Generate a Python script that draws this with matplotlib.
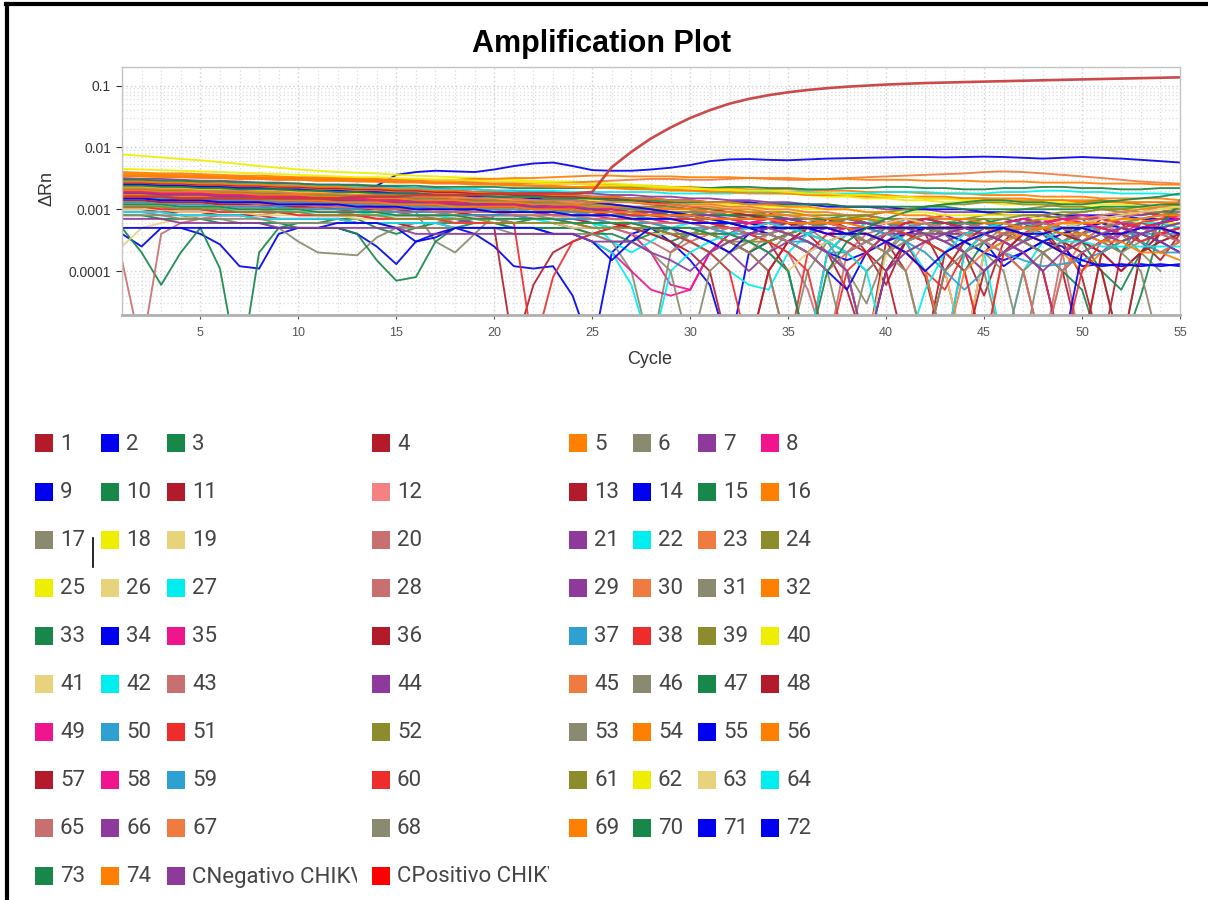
import matplotlib.pyplot as plt
import matplotlib.ticker as mticker
from matplotlib.patches import Rectangle
from matplotlib.lines import Line2D
from matplotlib.transforms import Bbox
import numpy as np

# Delta Rn per well, in units of 1e-4 (one list per well, cycles 1..55)
drn_e4 = [
    [30,29,28,28,27,26,25,25,24,23,23, 22,22,21,20,20,19,19,18,17,17,16, 16,15,14,14,13,12,11,10,9,8,8, 9,6,4,7,5,2,0.6,3,5,4,2, 0.4,3,6,5,2,4,7,6,3,1.5,4],
    [26,26,25,25,24,24,24,23,23,22,22, 22,23,24,36,40,42,41,40,44,50,55, 57,50,43,42,42,44,47,52,60,64,65, 63,62,64,66,67,68,69,70,70,69,70, 71,70,68,66,68,70,68,66,63,60,57],
    [18,17,17,16,16,15,15,15,14,14,14, 14,13,13,13,12,12,12,11,11,11,10, 10,10,9,9,9,8,8,8,7,7,7, 8,7,6,7,8,6,5,7,6,4,6, 7,5,3,6,8,7,4,2,6,9,11],
    [22,21,21,20,20,19,19,18,18,17,17, 16,16,15,15,14,14,13,13,12,12,11, 11,10,10,9,9,8,8,7,7,6,6, 5,6,4,2,0.5,0.05,3,5,4,1,0.05, 2,4,6,5,3,0.8,0.05,2,4,5,3],
    [40,39,38,38,37,36,35,35,34,33,33, 32,32,31,30,30,29,29,28,28,27,27, 26,26,25,25,24,24,23,23,22,22,21, 21,21,20,20,20,19,19,19,18,18,18, 17,17,17,16,16,16,15,15,15,15,14],
    [16,15,15,14,14,14,13,13,12,12,12, 11,11,11,10,9,3,2,4,8,9,9, 8,8,9,8,7,6,5,3,2,4,6, 7,6,5,3,1,0.3,2,5,6,4, 2,3,5,6,4,3,5,6,4,2,1],
    [32,31,31,30,29,29,28,27,27,26,25, 25,24,24,23,22,22,21,21,20,20,19, 19,18,18,17,17,16,16,15,15,14,14, 13,13,12,12,11,11,10,10,10,9,9, 9,8,8,8,7,7,7,6,6,6,5],
    [12,12,11,11,11,10,10,10,9,9,9, 9,8,8,8,8,7,7,7,7,6,6, 6,6,5,5,4,2,0.6,0.5,2,4,6, 7,6,5,6,7,8,6,5,7,8,6, 5,4,6,7,5,3,2,4,6,7,8],
    [4,2.5,5,5,4,2.7,1.2,1.1,4,5,5, 5,4,2.5,1.3,3,4,5,4,2.5,1.2,1.1, 1.2,0.4,0.05,2,4,5,3,1.5,0.6,0.05,2, 3,4,3,2,1,0.05,1,3,4,5,4, 3,1.2,2,3,2.5,1.2,1.3,1.2,1.3,1.2,1.3],
    [5,2,0.6,2,5,1.1,0.02,2,5,6,6, 7,7,5,4,5,6,6,7,7,6,7, 7,6,6,5,5,4,3,4,5,6,5, 4,5,6,5,4,3,5,6,5,4,5, 6,7,6,5,4,6,7,6,5,6,7],
    [20,20,19,19,18,18,17,17,16,16,15, 15,14,14,14,13,13,12,12,11,11,10, 10,9,9,8,8,7,7,6,6,5,4, 3,1,0.05,2,4,6,5,3,0.8,0.05,2, 4,5,6,4,2,3,5,4,3,2,3],
    [14,14,13,13,13,12,12,12,11,11,11, 10,10,10,9,9,9,8,8,8,8,7, 7,7,7,6,6,6,5,5,4,3,2, 4,5,6,5,4,3,2,1,3,5,6, 5,4,6,7,6,5,4,6,7,5,4],
    [24,24,23,22,22,21,21,20,19,19,18, 18,17,17,16,16,15,15,14,14,13,13, 12,12,11,11,10,10,9,9,8,8,7, 7,6,6,5,5,4,3,1,0.05,2,3, 4,6,7,6,5,4,5,6,5,4,3],
    [28,28,27,27,26,26,25,25,24,24,23, 23,22,22,21,21,20,20,19,19,18,18, 17,17,16,16,15,15,14,14,13,13,13, 12,12,12,11,11,11,11,10,10,10,10, 9,9,9,9,8,8,8,8,7,7,7],
    [30,30,29,29,28,28,27,27,26,26,25, 25,25,24,24,24,23,23,23,23,22,22, 22,22,22,23,23,23,22,22,22,23,23, 22,22,21,21,22,22,23,23,22,22,21, 21,22,22,23,23,22,22,21,21,22,22],
    [38,37,36,36,35,34,34,33,32,32,31, 30,30,29,28,28,27,27,26,26,25,24, 24,23,23,22,22,21,21,20,20,20,19, 19,18,18,18,17,17,17,16,16,16,15, 15,15,15,14,14,14,14,13,13,13,13],
    [9,9,8,8,7,7,6,6,5,3,2, 1.9,1.8,3.5,5,6,6,7,6,6,5,5, 5,5,4,3,1,0.05,2,4,5,4,3, 2,4,5,6,5,3,2,4,5,4,3, 2,1,0.05,2,3,4,3,2,3,4,5],
    [77,73,69,65,62,58,54,50,47,44,42, 40,39,38,36,35,34,33,32,31,30,29, 28,28,27,26,25,24,23,22,21,20,19, 18,18,17,16,16,15,15,14,14,13,13, 13,12,12,12,11,11,11,10,10,10,10],
    [20,20,19,19,18,18,17,17,17,16,16, 15,15,15,14,14,14,13,13,13,12,12, 12,11,11,10,10,9,9,8,7,6,5, 4,3,2,3,4,5,4,3,2,1,0.05, 2,3,4,5,4,3,2,3,4,5,6],
    [1.5,0.05,4,6,7,8,8,8,9,9,9, 9,9,9,8,8,8,7,7,7,6,6, 6,5,5,5,4,3,2,3,4,5,4, 3,2,0.5,0.05,2,4,5,6,5,4, 3,2,3,4,5,6,5,4,3,4,5],
    [22,22,21,21,20,20,19,19,18,18,17, 17,16,16,15,15,14,14,14,13,13,12, 12,12,11,11,10,10,9,9,9,8,8, 8,7,7,7,6,6,6,5,4,3,4, 5,6,7,8,7,6,5,6,7,8,9],
    [28,28,27,27,26,26,25,25,24,24,23, 23,23,22,22,22,21,21,21,20,20,20, 20,19,19,19,19,19,18,18,18,18,19, 19,19,19,18,18,18,19,19,19,18,18, 18,19,19,20,20,19,19,18,18,18,17],
    [34,34,33,33,32,32,31,31,30,30,29, 29,29,28,28,28,27,27,27,26,26,26, 26,27,28,29,30,31,31,30,30,31,32, 31,30,30,31,32,33,34,35,36,37,38, 40,41,40,38,36,34,32,30,28,27,26],
    [16,16,15,15,15,14,14,14,13,13,13, 12,12,12,11,11,11,10,10,10,9,9, 9,9,8,8,8,7,7,7,6,6,6, 6,5,5,6,7,6,5,4,5,6,7, 8,9,10,11,12,13,14,13,12,11,10],
    [26,26,25,25,24,24,23,23,22,22,21, 21,20,20,19,19,18,18,17,17,16,16, 15,15,14,14,13,13,12,12,11,11,10, 10,9,9,8,8,7,7,6,5,4,3, 2,3,4,5,6,5,4,5,6,7,8],
    [2.5,5,6,7,8,9,9,9,10,10,10, 11,11,11,10,10,10,9,9,9,8,8, 8,7,7,7,6,6,5,4,3,2,3, 4,5,6,5,4,3,2,1,0.05,1,3, 4,5,4,3,2,3,4,5,4,3,2],
    [18,17,17,16,16,16,15,15,14,14,14, 13,13,12,12,12,11,11,11,10,10,9, 9,8,6,3,2,3,5,6,5,4,3, 2,1,0.05,2,4,6,7,6,5,4,3, 2,0.05,1,3,5,6,5,4,3,4,5],
    [17,17,16,16,15,15,15,14,14,13,13, 13,12,12,12,11,11,10,10,10,9,9, 9,8,8,8,7,7,6,6,5,5,4, 3,4,5,6,5,4,3,2,3,4,5, 6,5,4,3,2,0.05,2,3,4,5,6],
    [11,11,10,10,10,9,9,9,9,8,8, 8,8,7,7,7,7,7,6,6,6,6, 6,5,5,5,5,4,4,4,3,2,1, 2,3,4,5,4,3,4,5,6,5,4, 5,6,7,6,5,3,2,1,2,4,5],
    [24,23,23,22,22,21,21,20,20,19,19, 18,18,17,17,16,16,15,15,14,14,14, 13,13,12,12,11,11,10,10,9,9,8, 8,7,7,6,6,5,5,4,3,2,1, 0.05,2,4,6,7,6,5,4,3,2,3],
    [12,12,11,11,11,10,10,10,9,9,9, 9,8,8,8,8,7,7,7,7,6,6, 6,6,5,5,5,4,4,4,3,2,3, 4,5,4,3,2,1,2,3,4,5,4, 3,2,3,4,3,2,1,0.05,2,3,4],
    [36,35,35,34,34,33,33,32,32,32,31, 31,31,30,30,30,30,30,31,31,32,32, 33,34,35,35,34,34,34,33,33,33,32, 32,32,31,31,31,30,30,30,29,29,29, 28,28,28,27,27,27,26,26,26,25,25],
    [8,8,7,7,7,6,6,6,6,5,5, 5,4,1.5,0.7,0.8,3,5,6,6,5,5, 5,5,4,4,3,4,5,5,4,3,2, 3,4,5,6,7,6,5,4,3,2,1, 3,4,3,2,1,0.5,0.05,0.05,0.4,5,14],
    [20,20,19,19,18,18,18,17,17,16,16, 16,15,15,14,14,14,13,13,12,12,12, 11,11,10,10,9,9,8,8,7,7,6, 5,4,3,2,1.5,2,3,4,5,4,3, 2,1.5,2,3,4,5,6,5,4,3,2],
    [16,16,15,15,15,14,14,13,13,13,12, 12,12,11,11,11,10,10,10,9,9,9, 8,8,8,7,7,7,6,6,6,5,5, 6,7,6,5,4,5,6,7,6,5,4, 5,6,7,6,5,6,7,8,9,8,7],
    [10,10,9,9,9,8,8,8,7,7,7, 7,6,6,6,5,5,5,5,5,0.05,0.6, 2,3,4,5,6,5,4,3,2,3,4, 5,4,3,2,1,0.05,1,3,4,5,6, 5,4,3,2,1,0.05,2,3,4,5,6],
    [21,21,20,20,19,19,18,18,18,17,17, 16,16,15,15,15,14,14,13,13,13,12, 12,11,11,11,10,10,9,9,9,8,8, 8,8,7,7,7,7,6,6,6,6,6, 6,5,5,5,5,5,5,4,4,4,4],
    [13,13,12,12,12,11,11,11,10,10,10, 10,9,9,9,8,8,8,8,7,7,7, 7,6,6,6,5,5,5,4,4,3,2, 1,0.05,2,4,5,4,3,2,1,0.5,2, 4,5,4,3,2,3,4,5,6,7,8],
    [19,19,18,18,18,17,17,16,16,16,15, 15,15,14,14,13,13,13,12,12,12,11, 11,11,10,10,10,9,9,9,8,8,8, 7,7,7,6,6,6,5,5,5,4,4, 4,5,6,7,8,9,10,9,8,9,10],
    [23,23,22,22,21,21,20,20,20,19,19, 18,18,18,17,17,17,16,16,16,15,15, 15,14,14,14,13,13,13,12,12,12,11, 11,11,10,10,10,9,9,9,9,8,8, 8,8,8,7,7,7,7,7,6,6,6],
    [10,10,10,9,9,9,9,8,8,8,8, 8,7,7,7,7,7,6,6,6,6,6, 6,5,5,5,5,4,4,3,2,3,4, 5,4,3,2,1,0.05,2,3,4,5,5, 4,3,4,5,6,5,4,3,4,5,6],
    [12,12,11,11,11,10,10,10,10,9,9, 9,9,8,8,8,8,7,7,7,7,7, 6,6,6,5,5,5,4,3,2,1,0.6, 0.5,2,4,6,7,6,5,3,1,0.05,2, 4,5,6,5,4,3,4,5,6,6,5],
    [19,18,18,17,17,17,16,16,15,15,15, 14,14,14,13,13,12,12,12,11,11,11, 10,10,10,9,9,9,8,8,7,7,6, 6,5,4,3,2,3,4,5,6,5,4, 3,2,1,0.05,2,4,5,4,3,4,5],
    [15,15,14,14,14,13,13,13,12,12,12, 11,11,11,10,10,10,10,9,9,9,9, 8,8,8,8,7,7,7,7,6,6,6, 6,6,5,5,5,5,4,4,4,4,4, 5,5,6,6,7,7,7,8,8,9,9],
    [26,26,25,25,24,24,23,23,22,22,21, 21,20,20,19,19,18,18,18,17,17,16, 16,15,15,14,14,13,13,12,12,11,11, 10,10,9,9,8,8,7,7,6,5,4, 3,2,1,0.05,1,3,5,7,9,11,13],
    [14,14,13,13,13,12,12,12,11,11,11, 10,10,10,9,9,9,9,8,8,8,8, 7,7,7,6,6,6,5,5,4,3,2, 1,0.05,1,3,4,5,6,5,4,3,2, 1,0.05,1,2,3,4,5,6,7,8,9],
    [17,17,16,16,16,15,15,15,14,14,14, 13,13,13,12,12,12,11,11,11,11,10, 10,10,10,9,9,9,9,8,8,8,8, 8,7,7,7,7,7,6,6,6,6,6, 6,6,5,5,4,3,1,0.5,2,6,12],
    [27,27,26,26,25,25,24,24,23,23,22, 22,21,21,20,20,19,19,18,18,17,17, 16,16,15,15,14,13,12,11,10,9,8, 7,6,5,4,3,2,1,0.05,0.05,1,3, 5,6,5,4,3,2,1,0.05,2,4,5],
    [9,9,9,8,8,8,8,7,7,7,7, 7,6,6,6,6,6,5,5,5,5,5, 4,4,3,2,1,0.5,0.4,0.5,2,4,5, 6,7,6,5,4,5,6,7,6,5,4, 3,4,5,6,7,8,7,6,5,4,5],
    [16,16,15,15,15,14,14,14,13,13,13, 12,12,12,11,11,11,10,10,10,10,9, 9,9,8,8,8,7,7,7,6,6,5, 4,3,2,3,4,5,4,3,2,1,0.5, 1,2,3,4,5,6,5,4,3,2,2],
    [11,11,10,10,10,9,9,9,9,8,8, 8,8,7,7,7,7,6,6,6,6,0.05, 0.8,3,4,5,6,5,4,3,2,1,0.05, 1,3,5,6,7,6,5,4,3,2,1, 0.05,2,4,6,7,6,5,4,3,4,5],
    [21,21,20,20,19,19,19,18,18,17,17, 17,16,16,15,15,15,14,14,14,13,13, 13,12,12,12,11,11,11,10,10,10,9, 9,9,8,8,8,8,7,7,7,7,7, 7,7,8,8,9,9,10,10,11,11,12],
    [17,17,16,16,16,15,15,14,14,14,13, 13,13,12,12,12,11,11,11,10,10,10, 10,9,9,9,8,8,8,7,7,6,5, 4,3,2,1,0.05,1,2,3,4,5,6, 5,4,3,2,1,2,3,4,5,6,7],
    [20,20,19,19,19,18,18,17,17,17,16, 16,15,15,15,14,14,14,13,13,13,12, 12,12,11,11,11,10,10,10,9,9,9, 8,8,8,7,7,7,6,6,6,5,5, 5,4,4,3,2,1,2,3,4,5,6],
    [25,25,24,24,23,23,22,22,21,21,20, 20,19,19,18,18,17,17,16,16,15,15, 14,14,13,12,11,10,9,8,7,6,5, 4,3,2,1,0.5,2,4,6,7,6,5, 4,3,2,1,0.05,2,3,4,5,6,7],
    [35,34,34,33,33,32,31,31,30,30,29, 29,28,28,27,27,26,26,25,25,24,24, 23,23,22,22,21,21,20,20,19,19,18, 18,18,17,17,17,16,16,16,15,15,15, 15,14,14,14,14,13,13,13,13,13,12],
    [14,14,13,13,13,12,12,12,11,11,11, 10,10,10,10,9,9,9,8,8,8,7, 7,7,6,6,5,4,3,2,1,0.05,0.05, 1,3,5,6,5,4,3,2,1,0.05,0.05, 1,2,4,5,4,3,2,1,2,3,4],
    [19,19,18,18,18,17,17,16,16,16,15, 15,15,14,14,13,13,13,12,12,12,11, 11,11,10,10,9,9,8,8,7,7,6, 6,5,5,4,4,5,6,7,6,5,4, 3,4,5,6,7,6,5,4,5,6,7],
    [13,13,12,12,12,11,11,11,11,10,10, 10,10,9,9,9,9,8,8,8,8,7, 7,7,7,6,6,6,5,5,5,4,4, 4,3,3,2,2,3,4,5,6,5,4, 3,2,1.5,1.2,1.3,1.5,2,3,4,5,6],
    [18,18,17,17,16,16,16,15,15,14,14, 14,13,13,13,12,12,12,11,11,11,10, 10,10,9,9,8,8,7,7,6,5,4, 3,2,1,0.05,1,2,4,6,7,6,5, 4,3,2,1,0.05,1,3,5,6,5,4],
    [11,11,11,10,10,10,9,9,9,9,8, 8,8,8,7,7,7,7,7,6,6,6, 6,6,5,5,5,5,4,4,4,3,3, 3,4,5,6,7,8,9,10,11,12,12, 13,13,12,12,11,11,10,10,9,9,8],
    [45,44,43,42,41,40,39,38,37,36,35, 34,33,33,32,31,30,30,29,28,28,27, 26,26,25,24,24,23,22,22,21,21,20, 20,19,18,18,17,17,16,16,15,15,14, 14,14,13,13,13,12,12,12,11,11,11],
    [12,12,12,11,11,11,10,10,10,10,9, 9,9,9,8,8,8,8,7,7,7,7, 7,6,6,6,6,5,5,5,4,4,3, 2,1,2,3,4,5,6,7,6,5,4, 3,2,3,4,5,6,7,8,9,10,11],
    [9,9,9,8,8,8,8,7,7,7,7, 7,6,6,6,6,6,5,5,5,5,5, 4,4,3,2,0.6,0.05,1,2,3,4,5, 6,5,4,3,2,1,0.05,0.05,0.5,2,4, 5,6,5,4,3,3,2.5,2.5,2.5,2.5,2.5],
    [15,15,14,14,14,13,13,12,12,12,11, 11,11,10,10,10,9,9,9,9,8,8, 8,8,7,7,7,6,6,6,5,5,4, 4,3,2,1,2,3,4,5,6,5,4, 3,2,1,0.05,1,2,3,4,5,4,3],
    [18,18,17,17,17,16,16,15,15,15,14, 14,14,13,13,13,12,12,12,11,11,11, 10,10,10,9,9,9,8,8,8,7,7, 7,7,6,6,6,6,5,5,4,3,2, 1,2,3,4,5,5,4,3,4,5,6],
    [22,22,21,21,20,20,20,19,19,18,18, 18,17,17,17,16,16,16,15,15,15,14, 14,14,13,13,13,12,12,11,11,10,10, 9,8,7,6,5,4,3,2,1,0.05,1, 2,3,4,5,6,7,8,9,10,11,12],
    [8,8,8,7,7,7,7,7,6,6,6, 6,6,6,5,5,5,5,5,5,4,4, 4,4,4,3,3,2,1,0.05,1,2,3, 4,5,6,5,4,3,2,1,0.05,1,2, 3,4,5,6,5,4,3,2,1,0.05,0.05],
    [17,17,16,16,16,15,15,15,14,14,14, 13,13,13,12,12,12,11,11,11,11,10, 10,10,9,9,9,8,8,8,7,7,7, 7,6,6,6,6,5,5,5,5,5,5, 5,5,5,5,6,6,6,7,7,8,8],
    [24,24,23,23,22,22,21,21,21,20,20, 19,19,18,18,18,17,17,17,16,16,16, 15,15,15,14,14,14,13,13,13,13,12, 12,12,12,12,11,11,11,11,11,11,10, 10,10,10,10,10,10,11,11,11,12,12],
    [5,5,5,5,5,5,5,5,5,5,5, 6,6,6,5,3,3.5,5,5,5,5,5, 4,4,3,1.5,3,5,5,4,3,2,4, 5,5,5,5,4,5,5,5,5,5,5, 5,5,4,4,5,5,4,4,5,5,4],
    [15,15,14,14,14,13,13,13,12,12,12, 12,11,11,11,10,10,10,10,9,9,9, 9,8,8,8,7,7,7,6,6,6,5, 5,5,5,4,4,4,3,2,1,2,3, 4,5,4,3,2,1.5,1.2,1.3,1.2,1.3,1.2],
    [12,12,12,11,11,11,10,10,10,10,9, 9,9,9,8,8,8,8,7,7,7,7, 7,6,6,6,6,5,5,5,4,4,3, 2,1,0.05,1,3,5,7,9,11,12,13,14, 14,13,13,12,12,13,14,15,16,18],
    [28,28,27,27,26,26,25,25,24,24,23, 23,22,22,21,21,20,20,19,19,18,18, 17,17,16,16,15,15,14,14,13,13,12, 12,11,11,10,10,9,9,8,8,7,7, 6,6,5,5,4,4,3,3,2,2,1.5],
    # CNegativo CHIKV
    [7,7,7,6,6,6,6,6,5,5,5, 5,5,5,5,4,4,4,4,4,4,4, 4,4,3,3,3,2,1.5,1,2,3,4, 5,4,3,2,1,0.05,1,2,3,4,5, 4,3,2,1,2,3,4,5,4,3,2],
    # CPositivo CHIKV
    [16,16,16,15,15,15,15,15,15,15,15, 15,16,16,16,17,17,17,17,18,18,18, 18,18,19,48,85,140,210,300,400,510,610, 700,780,850,910,960,1000,1040,1070,1100,1120,1140, 1160,1180,1200,1220,1240,1260,1280,1300,1320,1340,1360],
]

labels = [str(i) for i in range(1, 75)] + ["CNegativo CHIKV", "CPositivo CHIKV"]

dred, blue, green, orange = "#b31b2b", "#0000f0", "#17874a", "#ff7f00"
grey, purple, pink, salmon = "#8a8a70", "#8e3a9c", "#f0158c", "#f58282"
yellow, khaki, rosy, cyan = "#eeee00", "#e8d27c", "#c87070", "#00eeee"
coral, olive, steel, red = "#f07b40", "#8c8c2c", "#2ea0d2", "#ee2c2c"

colors = [
    dred, blue, green, dred, orange, grey, purple, pink,
    blue, green, dred, salmon, dred, blue, green, orange,
    grey, yellow, khaki, rosy, purple, cyan, coral, olive,
    yellow, khaki, cyan, rosy, purple, coral, grey, orange,
    green, blue, pink, dred, steel, red, olive, yellow,
    khaki, cyan, rosy, purple, coral, grey, green, dred,
    pink, steel, red, olive, grey, orange, blue, orange,
    dred, pink, steel, red, olive, yellow, khaki, cyan,
    rosy, purple, coral, grey, orange, green, blue, blue,
    green, orange, purple, "#ff0000",
]

W, H = 1208, 900


def fx(px):
    return px / W


def fy(py):
    return 1 - py / H


fig = plt.figure(figsize=(W / 100, H / 100), dpi=100)

# outer frame (top + left only)
fig.add_artist(Line2D([fx(6), 1], [fy(4), fy(4)], color="black", lw=3))
fig.add_artist(Line2D([fx(7), fx(7)], [fy(4), 0], color="black", lw=3))

fig.text(fx(602), fy(52), "Amplification Plot", ha="center", va="baseline",
         fontsize=22, fontweight="bold", family="Liberation Sans")

ax = fig.add_axes([fx(122), fy(315), fx(1180) - fx(122), fy(67) - fy(315)])

for i, vals in enumerate(drn_e4):
    y = np.array(vals) * 1e-4
    x = np.arange(1, len(y) + 1)
    last = i == len(drn_e4) - 1
    ax.plot(x, y, color="#c83a3a" if last else colors[i],
            lw=1.9 if last else 1.35, alpha=0.92)

ax.set_yscale("log")
ax.set_xlim(1, 55)
ax.set_ylim(1.95e-5, 0.2)

ax.yaxis.set_major_locator(mticker.FixedLocator([1e-4, 1e-3, 1e-2, 1e-1]))
ax.yaxis.set_major_formatter(mticker.FixedFormatter(["0.0001", "0.001", "0.01", "0.1"]))
ax.yaxis.set_minor_locator(mticker.LogLocator(base=10, subs=np.arange(2, 10)))
ax.yaxis.set_minor_formatter(mticker.NullFormatter())
ax.xaxis.set_major_locator(mticker.MultipleLocator(5))
ax.xaxis.set_minor_locator(mticker.MultipleLocator(1))

ax.grid(which="major", color="#d0d0d0", linestyle=(0, (1, 2)), lw=1)
ax.grid(which="minor", color="#dcdcdc", linestyle=(0, (1, 2)), lw=0.9)
ax.set_axisbelow(True)

for s in ["top", "right", "left"]:
    ax.spines[s].set_color("#c4c4c4")
    ax.spines[s].set_linewidth(1)
ax.spines["bottom"].set_color("#b0b0b0")
ax.spines["bottom"].set_linewidth(2)

ax.tick_params(axis="y", which="major", labelsize=10, colors="#333333", length=4, width=0.8, pad=4)
ax.tick_params(axis="y", which="minor", length=0)
ax.tick_params(axis="x", which="major", labelsize=9, colors="#555555", length=3, width=0.8, pad=6)
ax.tick_params(axis="x", which="minor", length=0)
for t in ax.get_xticklabels() + ax.get_yticklabels():
    t.set_family("Liberation Sans")

fig.text(fx(47), fy(188), "ΔRn", rotation=90, ha="center", va="center",
         fontsize=13, color="#333333", family="Liberation Sans")
fig.text(fx(650), fy(360), "Cycle", ha="center", va="center",
         fontsize=13, color="#333333", family="Liberation Sans")

# legend grid: 8 columns, 10 rows
col_x = [35, 101, 167, 372, 569, 633, 698, 761]
row_y = [443, 492, 540, 588, 636, 684, 732, 780, 828, 876]
clip_right = {2: 357, 3: 549}
sq = 18
for k, (lab, c) in enumerate(zip(labels, colors)):
    r, col = divmod(k, 8)
    cx, cy = col_x[col], row_y[r]
    fig.add_artist(Rectangle((fx(cx), fy(cy + sq / 2)), sq / W, sq / H,
                             facecolor=c, edgecolor="none"))
    t = fig.text(fx(cx + sq + 7), fy(cy + 1), lab, ha="left", va="center",
                 fontsize=16, color="#454545", family="Roboto")
    if col in clip_right:
        t.set_clip_box(Bbox([[0, 0], [clip_right[col], H]]))
        t.set_clip_on(True)

# stray cursor mark next to "17"
fig.add_artist(Line2D([fx(93), fx(93)], [fy(538), fy(567)], color="black", lw=1.2))

fig.savefig("out.png", dpi=100, facecolor="white")
